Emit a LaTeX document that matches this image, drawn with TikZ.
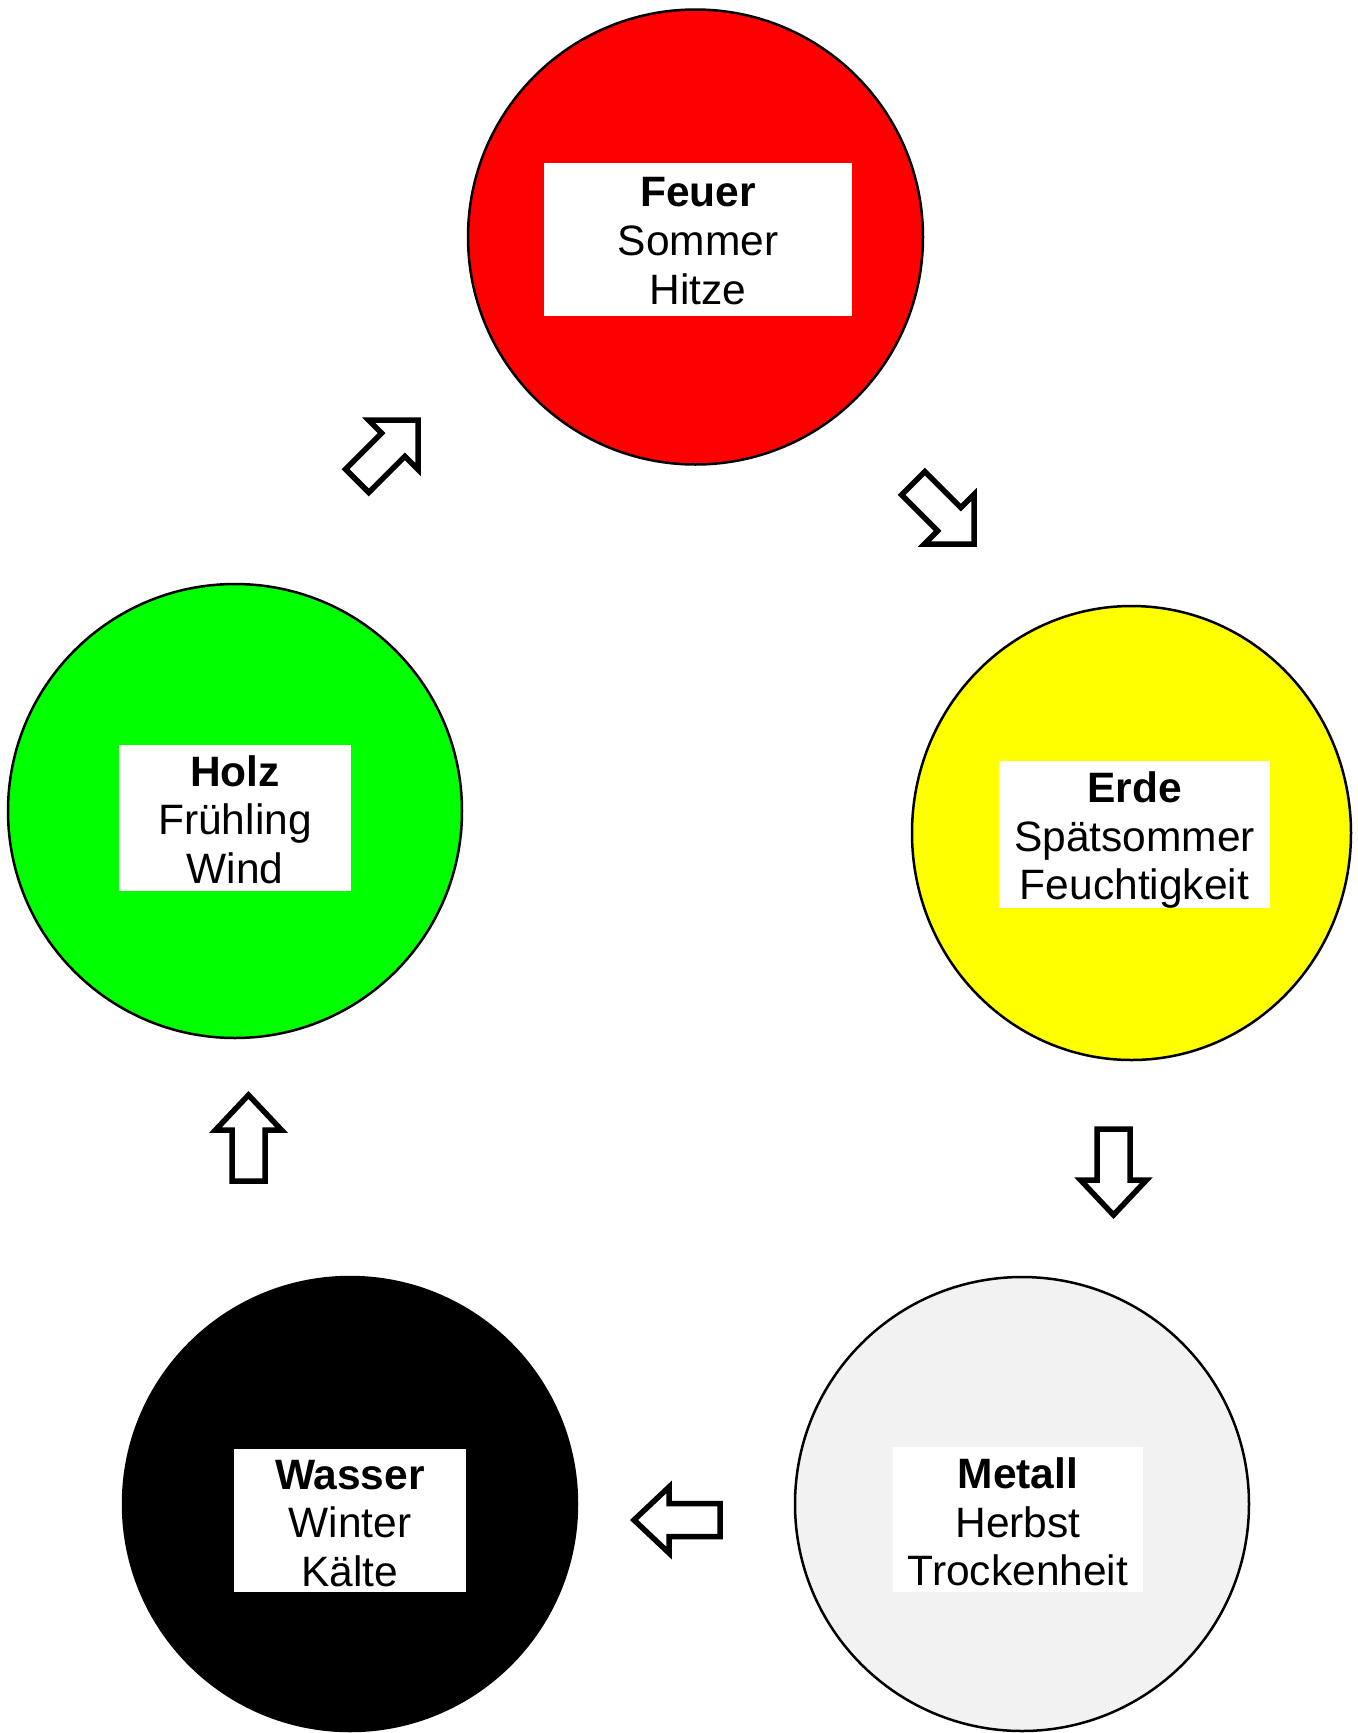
\documentclass[tikz,border=0pt]{standalone}
\usepackage{fontspec}
\setmainfont{Liberation Sans}
\usetikzlibrary{shapes.geometric}
\definecolor{fireRed}{RGB}{255,0,0}
\definecolor{woodGreen}{RGB}{0,255,0}
\definecolor{earthYellow}{RGB}{255,255,0}
\definecolor{metalGray}{RGB}{242,242,242}
\tikzset{
  elem/.style={circle, draw=black, line width=2.5pt, inner sep=0pt},
  elemov/.style={ellipse, draw=black, line width=2.5pt, inner sep=0pt},
  labelbox/.style={fill=white, inner sep=0pt},
  labeltext/.style={inner sep=0pt, align=center,
    font=\fontsize{42.5}{48.6}\selectfont},
  arrowline/.style={draw=black, line width=5.5pt, fill=white, line join=miter},
  blockarrow/.pic={\path[arrowline] (0,0) -- (-35,33) -- (-35,16.5) -- (-86,16.5)
     -- (-86,-16.5) -- (-35,-16.5) -- (-35,-33) -- cycle;},
  diagarrow/.pic={\path[arrowline] (0,0) -- (-35,35) -- (-35,16.5) -- (-86,16.5)
     -- (-86,-16.5) -- (-35,-16.5) -- (-35,-35) -- cycle;}
}
\begin{document}
\begin{tikzpicture}[x=1pt,y=-1pt]
\useasboundingbox (0,0) rectangle (1358,1733);
% circles
\node[elem, fill=fireRed, minimum size=455pt] (feuer) at (695.5,237) {};
\node[elem, fill=woodGreen, minimum size=454pt] (holz) at (235,811) {};
\node[elemov, fill=earthYellow, minimum width=439pt, minimum height=454pt] (erde) at (1131.5,833) {};
\node[elem, fill=metalGray, minimum size=454pt] (metall) at (1022,1504) {};
\node[elem, fill=black, minimum size=454pt] (wasser) at (350,1504) {};
% label boxes
\node[labelbox, minimum width=308pt, minimum height=153pt] (bf) at (698,239.5) {};
\node[labelbox, minimum width=232pt, minimum height=146pt] (bh) at (235,818) {};
\node[labelbox, minimum width=271pt, minimum height=147pt] (be) at (1134.5,834.5) {};
\node[labelbox, minimum width=250pt, minimum height=145pt] (bm) at (1018,1519.5) {};
\node[labelbox, minimum width=232pt, minimum height=143pt] (bw) at (350,1520.5) {};
% label texts
\node[labeltext] (tf) at ([yshift=-1.5pt]bf.center) {\textbf{Feuer}\\Sommer\\Hitze};
\node[labeltext] (th) at ([yshift=-1.5pt]bh.center) {\textbf{Holz}\\Frühling\\Wind};
\node[labeltext] (te) at ([yshift=-5.5pt]be.center) {\textbf{Erde}\\Spätsommer\\Feuchtigkeit};
\node[labeltext] (tm) at ([yshift=-2.5pt]bm.center) {\textbf{Metall}\\Herbst\\Trockenheit};
\node[labeltext] (tw) at ([yshift=-3pt]bw.center) {\textbf{Wasser}\\Winter\\Kälte};
% block arrows
\pic[rotate=45] at (418,420) {diagarrow};
\pic[rotate=-45] at (974,544) {diagarrow};
\pic[rotate=-90] at (1113.5,1215) {blockarrow};
\pic[rotate=180] at (634,1520) {blockarrow};
\pic[rotate=90] at (248.5,1095) {blockarrow};
\end{tikzpicture}
\end{document}
